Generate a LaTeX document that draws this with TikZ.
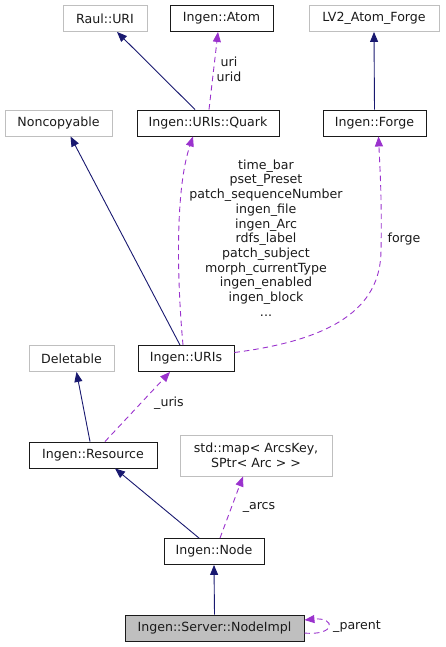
\documentclass[tikz,border=0pt]{standalone}
\usepackage{fontspec}
\setmainfont{DejaVu Sans}
\usetikzlibrary{arrows.meta}
\definecolor{inheritline}{HTML}{191970}
\definecolor{usageline}{HTML}{9A32CD}
\definecolor{externgray}{HTML}{BFBFBF}
\definecolor{classink}{HTML}{1A1A1A}

\begin{document}
\begin{tikzpicture}[x=1pt, y=-1pt, >={Triangle[length=10pt, width=8pt]},
                    every node/.style={classink, font=\fontsize{12.6}{14.7}\selectfont},
                    classbox/.style={draw=classink, line width=0.9pt, fill=white,
                                     minimum height=26pt, inner sep=2pt},
                    externbox/.style={draw=externgray, line width=0.9pt, fill=white,
                                      minimum height=26pt, inner sep=2pt},
                    inherit/.style={inheritline, line width=0.9pt, ->},
                    usage/.style={usageline, line width=0.9pt, dash pattern=on 5.5pt off 4pt, ->},
                    edgelabel/.style={align=center, inner sep=1pt}]

  \useasboundingbox (0,0) rectangle (445,647);

  %% 類別方塊
  \node[externbox, minimum width=84pt]  (rauluri)     at (105,18.5)   {Raul::URI};
  \node[classbox,  minimum width=103pt] (atom)        at (221.5,18.5) {Ingen::Atom};
  \node[externbox, minimum width=130pt] (atomforge)   at (374,18.5)   {LV2\_Atom\_Forge};
  \node[externbox, minimum width=107pt] (noncopyable) at (58.5,123)   {Noncopyable};
  \node[classbox,  minimum width=142pt] (quark)       at (208,123)    {Ingen::URIs::Quark};
  \node[classbox,  minimum width=103pt] (forge)       at (374.5,123)  {Ingen::Forge};
  \node[externbox, minimum width=85pt]  (deletable)   at (71.5,358.5) {Deletable};
  \node[classbox,  minimum width=96pt]  (uris)        at (186,358.5)  {Ingen::URIs};
  \node[classbox,  minimum width=128pt] (resource)    at (93,455)     {Ingen::Resource};
  \node[externbox, minimum width=152pt, minimum height=41pt, align=center]
        (arcsmap) at (256,455.5) {std::map< ArcsKey,\\ SPtr< Arc > >};
  \node[classbox,  minimum width=100pt] (node)        at (214,551.5)  {Ingen::Node};
  \node[classbox,  fill=externgray, minimum width=179pt]
        (nodeimpl) at (214.5,628) {Ingen::Server::NodeImpl};

  %% 繼承
  \draw[inherit] ([xshift=-13pt]quark.north) -- ([xshift=12pt]rauluri.south);
  \draw[inherit] (forge.north) -- (atomforge.south);
  \draw[inherit] ([xshift=-6pt]uris.north) -- ([xshift=12pt]noncopyable.south);
  \draw[inherit] ([xshift=-3pt]resource.north) -- ([xshift=5pt]deletable.south);
  \draw[inherit] ([xshift=-15pt]node.north) -- ([xshift=22pt]resource.south);
  \draw[inherit] (nodeimpl.north) -- (node.south);

  %% 成員使用
  \draw[usage] ([xshift=1pt]quark.north) -- ([xshift=-3.5pt]atom.south);
  \node[edgelabel] (urilabel) at (229,69) {uri\\urid};

  \draw[usage] ([xshift=-3pt]uris.north)
    .. controls (177,280) and (175,190) .. ([xshift=-15pt]quark.south);
  \node[edgelabel] (quarklabel) at (266,238)
    {time\_bar\\pset\_Preset\\patch\_sequenceNumber\\ingen\_file\\ingen\_Arc\\
     rdfs\_label\\patch\_subject\\morph\_currentType\\ingen\_enabled\\ingen\_block\\...};

  \draw[usage] ([yshift=6pt]uris.east)
    .. controls (330,340) and (381,310) .. (381,250)
    .. controls (382,200) and (380,170) .. ([xshift=4pt]forge.south);
  \node[edgelabel] (forgelabel) at (404,239) {forge};

  \draw[usage] ([xshift=12pt]resource.north) -- ([xshift=-16pt]uris.south);
  \node[edgelabel] (urislabel) at (169,403) {\_uris};

  \draw[usage] ([xshift=6pt]node.north) -- ([xshift=-13pt]arcsmap.south);
  \node[edgelabel] (arcslabel) at (259,507) {\_arcs};

  \draw[usage] ([yshift=-5pt]nodeimpl.east)
    .. controls (336,636) and (336,617) .. ([yshift=8pt]nodeimpl.east);
  \node[edgelabel] (parentlabel) at (357,627) {\_parent};

\end{tikzpicture}
\end{document}
